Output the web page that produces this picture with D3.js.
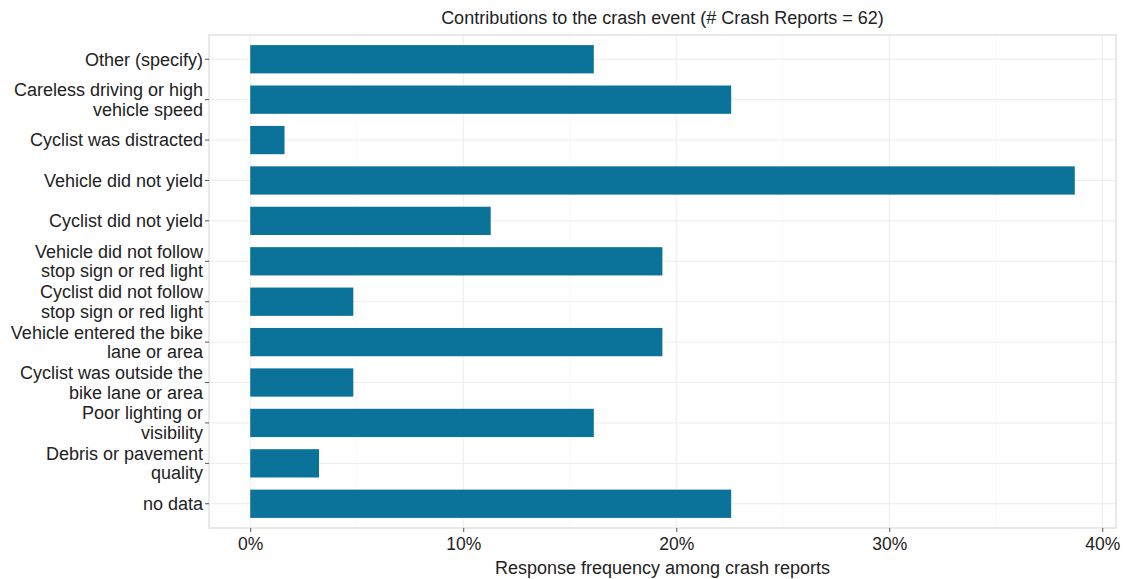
<!DOCTYPE html>
<html>
<head>
<meta charset="utf-8">
<script src="https://cdn.jsdelivr.net/npm/d3@7"></script>
<style>
  body { margin: 0; background: #fff; }
  text { font-family: "Liberation Sans", Arial, sans-serif; fill: #222; }
</style>
</head>
<body>
<div id="chart"></div>
<script>
// categories top to bottom, each label split into lines
var categories = [
  ["Other (specify)"],
  ["Careless driving or high", "vehicle speed"],
  ["Cyclist was distracted"],
  ["Vehicle did not yield"],
  ["Cyclist did not yield"],
  ["Vehicle did not follow", "stop sign or red light"],
  ["Cyclist did not follow", "stop sign or red light"],
  ["Vehicle entered the bike", "lane or area"],
  ["Cyclist was outside the", "bike lane or area"],
  ["Poor lighting or", "visibility"],
  ["Debris or pavement", "quality"],
  ["no data"]
];
// share of the 62 crash reports, in percent
var values = [16.13, 22.58, 1.61, 38.71, 11.29, 19.35, 4.84, 19.35, 4.84, 16.13, 3.23, 22.58];
var xTicks = [0, 10, 20, 30, 40];
var xMinor = [5, 15, 25, 35];

var width = 1123, height = 579;
var margin = {top: 35, right: 7, bottom: 51, left: 209};
var w = width - margin.left - margin.right,
    h = height - margin.top - margin.bottom;

var svg = d3.select("#chart").append("svg")
  .attr("width", width).attr("height", height);

var g = svg.append("g")
  .attr("transform", "translate(" + margin.left + "," + margin.top + ")");

var keys = categories.map(function(d, i) { return "c" + i; });

var xmax = d3.max(values);
var x = d3.scaleLinear()
  .domain([-xmax * 0.05, xmax * 1.05])
  .range([0, w]);

var y = d3.scaleBand()
  .domain(keys)
  .range([0, h])
  .paddingInner(0.3)
  .paddingOuter(0.25);

// grid
g.selectAll(".minor").data(xMinor).enter().append("line")
  .attr("x1", function(d) { return x(d); }).attr("x2", function(d) { return x(d); })
  .attr("y1", 0).attr("y2", h)
  .attr("stroke", "#f4f4f4").attr("stroke-width", 0.6);
g.selectAll(".vmajor").data(xTicks).enter().append("line")
  .attr("x1", function(d) { return x(d); }).attr("x2", function(d) { return x(d); })
  .attr("y1", 0).attr("y2", h)
  .attr("stroke", "#ececec").attr("stroke-width", 1);
g.selectAll(".hmajor").data(keys).enter().append("line")
  .attr("x1", 0).attr("x2", w)
  .attr("y1", function(d) { return y(d) + y.bandwidth() / 2; })
  .attr("y2", function(d) { return y(d) + y.bandwidth() / 2; })
  .attr("stroke", "#ececec").attr("stroke-width", 1);

// bars
g.selectAll(".bar").data(values).enter().append("rect")
  .attr("x", x(0))
  .attr("y", function(d, i) { return y(keys[i]); })
  .attr("width", function(d) { return x(d) - x(0); })
  .attr("height", y.bandwidth())
  .attr("fill", "#0b7399");

// panel border
g.append("rect")
  .attr("width", w).attr("height", h)
  .attr("fill", "none").attr("stroke", "#d4d4d4").attr("stroke-width", 1);

// x axis
var xAxis = g.append("g")
  .attr("transform", "translate(0," + h + ")")
  .call(d3.axisBottom(x).tickValues(xTicks)
    .tickFormat(function(d) { return d + "%"; })
    .tickSize(4).tickPadding(6));
xAxis.select(".domain").remove();
xAxis.selectAll("line").attr("stroke", "#555");
xAxis.selectAll("text").style("font-size", "17.5px").attr("fill", "#222");

// y axis
var yAxis = g.append("g")
  .call(d3.axisLeft(y).tickSize(4).tickPadding(3).tickFormat(""));
yAxis.select(".domain").remove();
yAxis.selectAll("line").attr("stroke", "#555");

var lh = 19.5;
g.selectAll(".ylab").data(categories).enter().append("text")
  .attr("text-anchor", "end")
  .style("font-size", "18px")
  .attr("transform", function(d, i) {
    return "translate(-6," + (y(keys[i]) + y.bandwidth() / 2) + ")";
  })
  .each(function(d) {
    var t = d3.select(this);
    var y0 = -(d.length - 1) * lh / 2;
    d.forEach(function(line, j) {
      t.append("tspan").attr("x", 0).attr("y", y0 + j * lh).attr("dy", "0.35em").text(line);
    });
  });

// titles
svg.append("text")
  .attr("x", margin.left + w / 2).attr("y", 24)
  .attr("text-anchor", "middle")
  .style("font-size", "18px")
  .text("Contributions to the crash event (# Crash Reports = 62)");

svg.append("text")
  .attr("x", margin.left + w / 2).attr("y", 574)
  .attr("text-anchor", "middle")
  .style("font-size", "18px")
  .text("Response frequency among crash reports");
</script>
</body>
</html>
